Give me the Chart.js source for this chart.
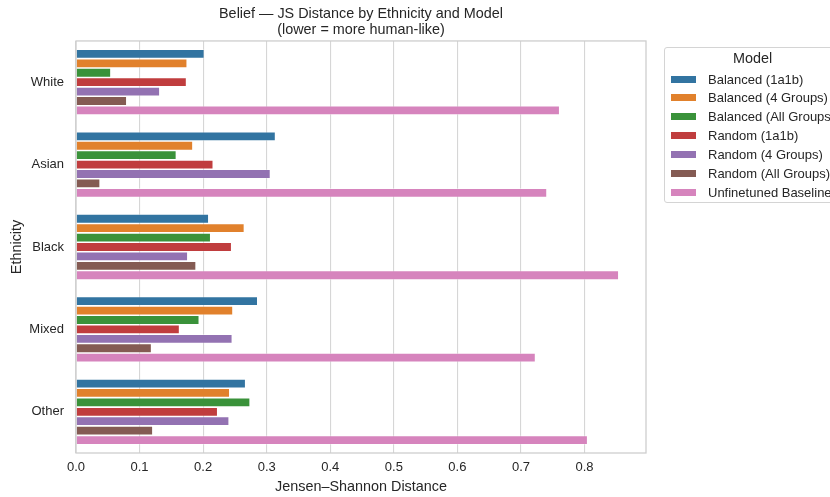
<!DOCTYPE html>
<html>
<head>
<meta charset="utf-8">
<script src="https://cdn.jsdelivr.net/npm/chart.js@4"></script>
<style>
  html, body { margin: 0; padding: 0; background: #fff; overflow: hidden; }
  #wrap { position: relative; width: 830px; height: 497px; overflow: hidden; }
  canvas { position: absolute; left: 0; top: 0; }
  #legend {
    position: absolute; left: 664px; top: 47px; width: 177px; height: 156px;
    border: 1px solid #d4d4d4; border-radius: 3px; background: #fff; box-sizing: border-box;
    font-family: 'Liberation Sans', Arial, sans-serif; color: #262626;
  }
  #legend .ttl { position: absolute; left: 0; width: 100%; top: 2px; text-align: center; font-size: 14.4px; line-height: 17px; }
  #legend .row { position: absolute; left: 0; height: 19px; width: 200px; }
  #legend .sw { position: absolute; left: 6px; top: 6px; width: 25px; height: 7px; }
  #legend .lb { position: absolute; left: 43px; top: 0; font-size: 13px; line-height: 19px; white-space: nowrap; }
</style>
</head>
<body>
<div id="wrap">
  <canvas id="c" width="830" height="497"></canvas>
  <div id="legend"></div>
</div>
<script>
const ethnicities = ['White', 'Asian', 'Black', 'Mixed', 'Other'];
const modelNames = ['Balanced (1a1b)', 'Balanced (4 Groups)', 'Balanced (All Groups)', 'Random (1a1b)', 'Random (4 Groups)', 'Random (All Groups)', 'Unfinetuned Baseline'];
const balanced1a1b = [0.202, 0.314, 0.209, 0.286, 0.267];
const balanced4    = [0.175, 0.184, 0.265, 0.247, 0.242];
const balancedAll  = [0.055, 0.158, 0.212, 0.194, 0.274];
const random1a1b   = [0.174, 0.216, 0.245, 0.163, 0.223];
const random4      = [0.132, 0.306, 0.176, 0.246, 0.241];
const randomAll    = [0.080, 0.038, 0.189, 0.119, 0.121];
const baseline     = [0.761, 0.741, 0.854, 0.723, 0.805];
const xTicks = [0.0, 0.1, 0.2, 0.3, 0.4, 0.5, 0.6, 0.7, 0.8];

const colors = ['#3274a1', '#e1812c', '#3a923a', '#c03d3e', '#9372b2', '#845b53', '#d684bd'];
const seriesValues = [balanced1a1b, balanced4, balancedAll, random1a1b, random4, randomAll, baseline];

const FONT = "'Liberation Sans', Arial, sans-serif";
const TXT = '#262626';

const allVals = seriesValues.flat();
const xMax = Math.max(...allVals) * 1.05;

const frame = {
  id: 'frame',
  afterDatasetsDraw(chart) {
    const a = chart.chartArea, ctx = chart.ctx;
    ctx.save();
    ctx.strokeStyle = '#cccccc';
    ctx.lineWidth = 1.25;
    ctx.strokeRect(a.left, a.top, a.right - a.left, a.bottom - a.top);
    ctx.restore();
  }
};

const chart = new Chart(document.getElementById('c'), {
  type: 'bar',
  data: {
    labels: ethnicities,
    datasets: seriesValues.map((v, i) => ({
      label: modelNames[i],
      data: v,
      backgroundColor: colors[i],
      borderColor: 'rgba(255,255,255,0.45)',
      borderWidth: 0.8,
      categoryPercentage: 0.8,
      barPercentage: 1.0
    }))
  },
  plugins: [frame],
  options: {
    indexAxis: 'y',
    responsive: false,
    animation: false,
    layout: { padding: { left: 0, right: 184, top: 0, bottom: 0 } },
    plugins: {
      legend: { display: false },
      tooltip: { enabled: false },
      title: {
        display: true,
        fullSize: false,
        text: ['Belief — JS Distance by Ethnicity and Model', '(lower = more human-like)'],
        color: TXT,
        font: { family: FONT, size: 14.4, weight: 'normal', lineHeight: 1.12 },
        padding: { top: 6, bottom: 2.7 }
      }
    },
    scales: {
      x: {
        type: 'linear',
        min: 0,
        max: xMax,
        afterBuildTicks(scale) { scale.ticks = xTicks.map(v => ({ value: v })); },
        afterFit(scale) { scale.height = 44; },
        grid: { color: '#d6d6d6', lineWidth: 1.1, drawTicks: false },
        border: { display: false },
        ticks: { color: TXT, font: { family: FONT, size: 13 }, padding: 7, maxRotation: 0,
                 callback: v => Number(v).toFixed(1) },
        title: { display: true, text: 'Jensen–Shannon Distance', color: TXT,
                 font: { family: FONT, size: 14.4 }, padding: { top: 0, bottom: 1.4 } }
      },
      y: {
        afterFit(scale) { scale.width = 76; },
        grid: { display: false, drawTicks: false },
        border: { display: false },
        ticks: { color: TXT, font: { family: FONT, size: 13 }, padding: 12 },
        title: { display: true, text: 'Ethnicity', color: TXT,
                 font: { family: FONT, size: 14.4 }, padding: { top: 8.4, bottom: 0 } }
      }
    }
  }
});

// HTML legend built from the chart's datasets
const lg = document.getElementById('legend');
const t = document.createElement('div');
t.className = 'ttl'; t.textContent = 'Model';
lg.appendChild(t);
chart.data.datasets.forEach((ds, i) => {
  const row = document.createElement('div');
  row.className = 'row';
  row.style.top = (21.5 + i * 18.9) + 'px';
  const sw = document.createElement('div');
  sw.className = 'sw'; sw.style.background = ds.backgroundColor;
  const lb = document.createElement('div');
  lb.className = 'lb'; lb.textContent = ds.label;
  row.appendChild(sw); row.appendChild(lb);
  lg.appendChild(row);
});
</script>
</body>
</html>
